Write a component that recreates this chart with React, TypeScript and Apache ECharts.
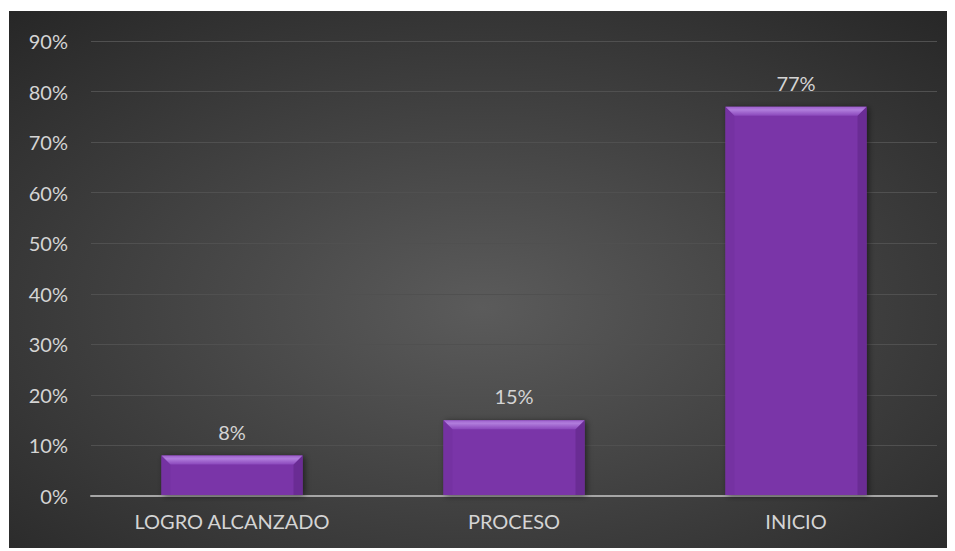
import React, { useEffect, useRef } from "react";
import * as echarts from "echarts";

const categories = ["LOGRO ALCANZADO", "PROCESO", "INICIO"];
const values = [8, 15, 77];
const yMin = 0;
const yMax = 90;
const yStep = 10;

export default function App() {
  const ref = useRef<HTMLDivElement>(null);
  useEffect(() => {
    const chart = echarts.init(ref.current!, null, { renderer: "svg" });
    chart.setOption({
      animation: false,
      backgroundColor: {
        type: "radial",
        x: 0.5,
        y: 0.55,
        r: 0.75,
        colorStops: [
          { offset: 0, color: "#5b5b5b" },
          { offset: 1, color: "#262626" },
        ],
      },
      grid: { left: 82, right: 18, top: 30, bottom: 55 },
      xAxis: {
        type: "category",
        data: categories,
        axisLine: { lineStyle: { color: "#a6a6a6", width: 2 } },
        axisTick: { show: false },
        axisLabel: { color: "#d4d4d4", fontSize: 20, fontFamily: "Lato", margin: 15 },
      },
      yAxis: {
        type: "value",
        min: yMin,
        max: yMax,
        interval: yStep,
        axisLine: { show: false },
        axisTick: { show: false },
        axisLabel: { formatter: "{value}%", color: "#d4d4d4", fontSize: 20, fontFamily: "Lato", margin: 23 },
        splitLine: { lineStyle: { color: "#505050", width: 1 } },
      },
      series: [
        {
          type: "custom",
          data: values.map((v, i) => [i, v]),
          encode: { x: 0, y: 1 },
          renderItem: (params: any, api: any) => {
            const idx = api.value(0);
            const v = api.value(1);
            const top = api.coord([idx, v]);
            const base = api.coord([idx, 0]);
            const cw = api.size([1, 0])[0];
            const w = cw * 0.5;
            const x0 = top[0] - w / 2;
            const x1 = top[0] + w / 2;
            const y0 = top[1];
            const y1 = base[1] - 1;
            const b = Math.min(9, (y1 - y0) / 2);
            return {
              type: "group",
              children: [
                {
                  type: "rect",
                  shape: { x: x0, y: y0, width: w, height: y1 - y0 },
                  style: { fill: "#7a35a8", shadowBlur: 6, shadowColor: "rgba(0,0,0,0.55)", shadowOffsetX: 2, shadowOffsetY: 1 },
                },
                {
                  type: "polygon",
                  shape: { points: [[x0, y0], [x0 + b, y0 + b], [x0 + b, y1], [x0, y1]] },
                  style: { fill: "#7532a2" },
                },
                {
                  type: "polygon",
                  shape: { points: [[x1, y0], [x1 - b, y0 + b], [x1 - b, y1], [x1, y1]] },
                  style: { fill: "#6a2c94" },
                },
                {
                  type: "polygon",
                  shape: { points: [[x0, y0], [x1, y0], [x1 - b, y0 + b], [x0 + b, y0 + b]] },
                  style: {
                    fill: {
                      type: "linear", x: 0, y: 0, x2: 0, y2: 1,
                      colorStops: [
                        { offset: 0, color: "#9d5fcc" },
                        { offset: 0.35, color: "#b07ddc" },
                        { offset: 1, color: "#8a47bb" },
                      ],
                    },
                  },
                },
                {
                  type: "text",
                  style: {
                    text: v + "%",
                    x: top[0],
                    y: y0 - 14,
                    align: "center",
                    verticalAlign: "bottom",
                    fill: "#d4d4d4",
                    font: "20px Lato",
                  },
                },
              ],
            };
          },
        },
      ],
    });
    return () => chart.dispose();
  }, []);
  return (
    <div
      ref={ref}
      style={{ position: "relative", left: 1, top: 3, width: 946, height: 540 }}
    />
  );
}
